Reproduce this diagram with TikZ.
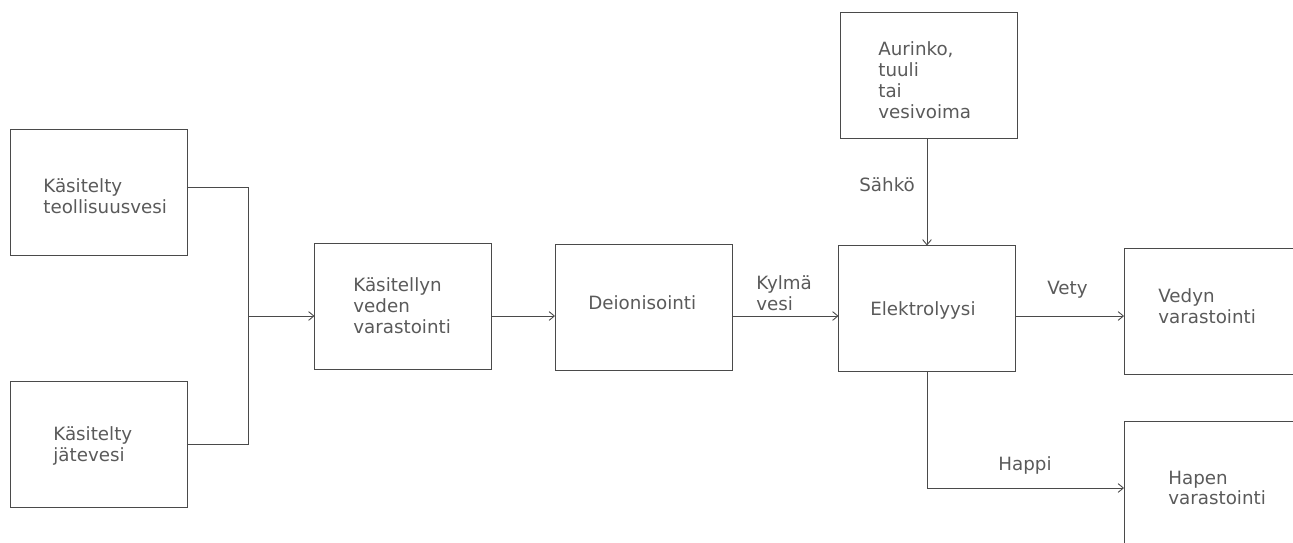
\documentclass[tikz,border=0pt]{standalone}
\usepackage{fontspec}
\usetikzlibrary{arrows.meta}
\setmainfont{DejaVu Sans}
\definecolor{linegray}{HTML}{4A4A4A}
\definecolor{textgray}{HTML}{5A5A5A}
\tikzset{
  box/.style={draw=linegray, line width=0.5pt, rectangle, inner sep=0pt, outer sep=0pt,
    minimum width=3.54cm, minimum height=2.52cm},
  lbl/.style={anchor=west, inner sep=0pt, align=left, text=textgray,
    font=\fontsize{10.4}{11.9}\selectfont},
  arr/.style={-{Straight Barb[length=3pt,width=5pt]}, draw=linegray, line width=0.5pt}
}
\begin{document}
\begin{tikzpicture}[x=0.02cm, y=-0.02cm]
      \useasboundingbox (0,0) rectangle (1293,542);
      \clip (0,0) rectangle (1293,542);
      % laatikot
      \node[box] (b1) at (98.5,192) {};
      \node[box] (b2) at (98.5,444) {};
      \node[box] (b3) at (403,306.5) {};
      \node[box] (b4) at (643.5,307.5) {};
      \node[box] (b5) at (927,308.5) {};
      \node[box] (b6) at (929,75.5) {};
      \node[box] (b7) at (1212.5,311) {};
      \node[box] (b8) at (1212.5,484) {};
      % tekstit
      \node[lbl] (t1) at (43,196) {Käsitelty\\teollisuusvesi};
      \node[lbl] (t2) at (53,446) {Käsitelty\\jätevesi};
      \node[lbl] (t3) at (353,306) {Käsitellyn\\veden\\varastointi};
      \node[lbl] (t4) at (588,303) {Deionisointi};
      \node[lbl] (t5) at (870,310) {Elektrolyysi};
      \node[lbl] (t6) at (878,80) {Aurinko,\\tuuli\\tai\\vesivoima};
      \node[lbl] (t7) at (1158,306) {Vedyn\\varastointi};
      \node[lbl] (t8) at (1168,488) {Hapen\\varastointi};
      % nuolet
      \coordinate (mid) at (248,316);
      \draw[linegray, line width=0.5pt] ([yshift=2.8pt]b1.east) -| (mid);
      \draw[linegray, line width=0.5pt] (b2.east) -| (mid);
      \draw[arr] (mid) -- (b3.west |- mid);
      \draw[arr] (b3.east |- mid) -- (b4.west |- mid);
      \draw[arr] (b4.east |- mid) -- (b5.west |- mid);
      \draw[arr] (b5.east |- mid) -- (b7.west |- mid);
      \draw[arr] (b6.south -| b5.south) -- (b5.north);
      \coordinate (hk) at (1124,488);
      \draw[arr] (b5.south) |- (hk);
      % virtojen nimet
      \node[lbl] (kv) at (756,293) {Kylmä\\vesi};
      \node[lbl] (sa) at (859,185) {Sähkö};
      \node[lbl] (ve) at (1047,290) {Vety};
      \node[lbl] (ha) at (998,465) {Happi};
    \end{tikzpicture}
\end{document}
